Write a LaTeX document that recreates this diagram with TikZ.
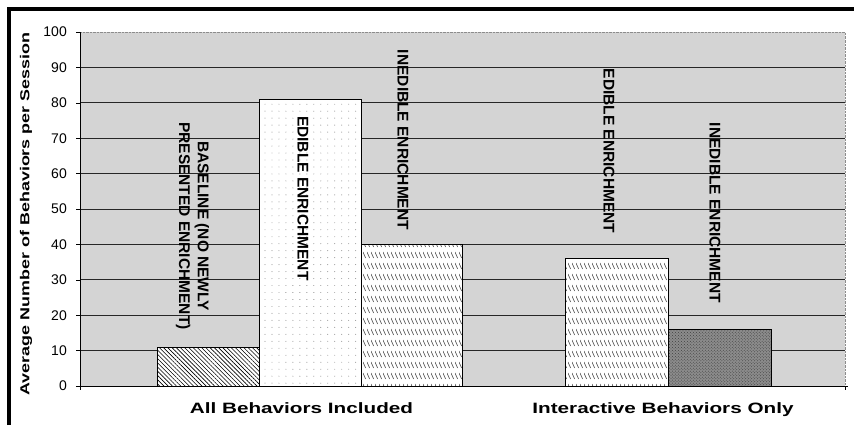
\documentclass[tikz,border=0pt]{standalone}
\usepackage{fontspec}
\setmainfont{Liberation Sans}
\newfontfamily\catfont[FakeStretch=1.38]{Liberation Sans}
\usetikzlibrary{patterns,patterns.meta}

\tikzdeclarepattern{
	name=rowhatch,
	type=uncolored,
	bottom left={(0pt,0pt)},
	top right={(3.5pt,11pt)},
	tile size={(3.5pt,11pt)},
	code={\draw[line width=0.7pt] (0pt,9pt) -- (3pt,3pt);}
}

\begin{document}
\begin{tikzpicture}[x=1bp, y=3.54bp,
		every node/.style={font=\fontsize{14bp}{16bp}\selectfont},
		ticklab/.style={left=9bp, inner sep=0pt},
		barlabel/.style={rotate=-90, align=center, inner sep=0pt, font=\bfseries\fontsize{15.5bp}{18.6bp}\selectfont},
		catlabel/.style={anchor=base, inner sep=0pt, font=\catfont\bfseries\fontsize{15bp}{18bp}\selectfont},
		grid/.style={black!85, line width=0.8pt}]
			\useasboundingbox (-80,-11.02) rectangle (774,109.04);

			% Frame
			\draw[line width=4bp] (-70.5,-11.02) -- (-70.5,106.36) -- (774,106.36);

			% Plot area
			\fill[black!17] (0,0) rectangle (765,100);
			\draw[black!45, densely dotted] (0,100) -- (765,100) -- (765,0);

			% Grid lines
			\draw[grid] (0,10) -- (765,10);
			\draw[grid] (0,20) -- (765,20);
			\draw[grid] (0,30) -- (765,30);
			\draw[grid] (0,40) -- (765,40);
			\draw[grid] (0,50) -- (765,50);
			\draw[grid] (0,60) -- (765,60);
			\draw[grid] (0,70) -- (765,70);
			\draw[grid] (0,80) -- (765,80);
			\draw[grid] (0,90) -- (765,90);

			% Bars
			\draw[preaction={fill=white}, pattern={Lines[angle=-45,distance=3pt,line width=0.6pt]}] (77,0) rectangle (179,11);
			\draw[preaction={fill=white}, pattern={Dots[distance=7pt,radius=0.45pt]}, pattern color=black!55] (179,0) rectangle (281,81);
			\draw[preaction={fill=white}, pattern=rowhatch, pattern color=black!70] (281,0) rectangle (382,40);
			\draw[preaction={fill=white}, pattern=rowhatch, pattern color=black!70] (485,0) rectangle (588,36);
			\draw[preaction={fill=black!45}, pattern=crosshatch dots, pattern color=black!75] (588,0) rectangle (691,16);

			% Axes
			\draw[line width=0.8pt] (0,0) -- (0,100);
			\draw[line width=0.8pt] (-4,0) -- (768,0);
			\draw (0,0) -- (0,-1);
			\draw (765,0) -- (765,-1);

			% Tick marks
			\draw (0,0) -- (-4,0) node[ticklab] (t0) {0};
			\draw (0,10) -- (-4,10) node[ticklab] (t10) {10};
			\draw (0,20) -- (-4,20) node[ticklab] (t20) {20};
			\draw (0,30) -- (-4,30) node[ticklab] (t30) {30};
			\draw (0,40) -- (-4,40) node[ticklab] (t40) {40};
			\draw (0,50) -- (-4,50) node[ticklab] (t50) {50};
			\draw (0,60) -- (-4,60) node[ticklab] (t60) {60};
			\draw (0,70) -- (-4,70) node[ticklab] (t70) {70};
			\draw (0,80) -- (-4,80) node[ticklab] (t80) {80};
			\draw (0,90) -- (-4,90) node[ticklab] (t90) {90};
			\draw (0,100) -- (-4,100) node[ticklab] (t100) {100};

			% Axis titles
			\node[rotate=90, font=\catfont\bfseries\fontsize{13bp}{15bp}\selectfont] (ytitle) at (-54,48.6) {Average Number of Behaviors per Session};
			\node[catlabel] (allcat) at (221.5,-7.63) {All Behaviors Included};
			\node[catlabel] (intcat) at (583,-7.63) {Interactive Behaviors Only};

			% Bar labels
			\node[barlabel] (baselab) at (112.5,45.2) {BASELINE (NO NEWLY\\PRESENTED ENRICHMENT)};
			\node[barlabel] (edlab) at (223,53) {EDIBLE ENRICHMENT};
			\node[barlabel] (inedlab) at (323,69.5) {INEDIBLE ENRICHMENT};
			\node[barlabel] (edintlab) at (529,66.4) {EDIBLE ENRICHMENT};
			\node[barlabel] (inedintlab) at (635,48.9) {INEDIBLE ENRICHMENT};
		\end{tikzpicture}
\end{document}
